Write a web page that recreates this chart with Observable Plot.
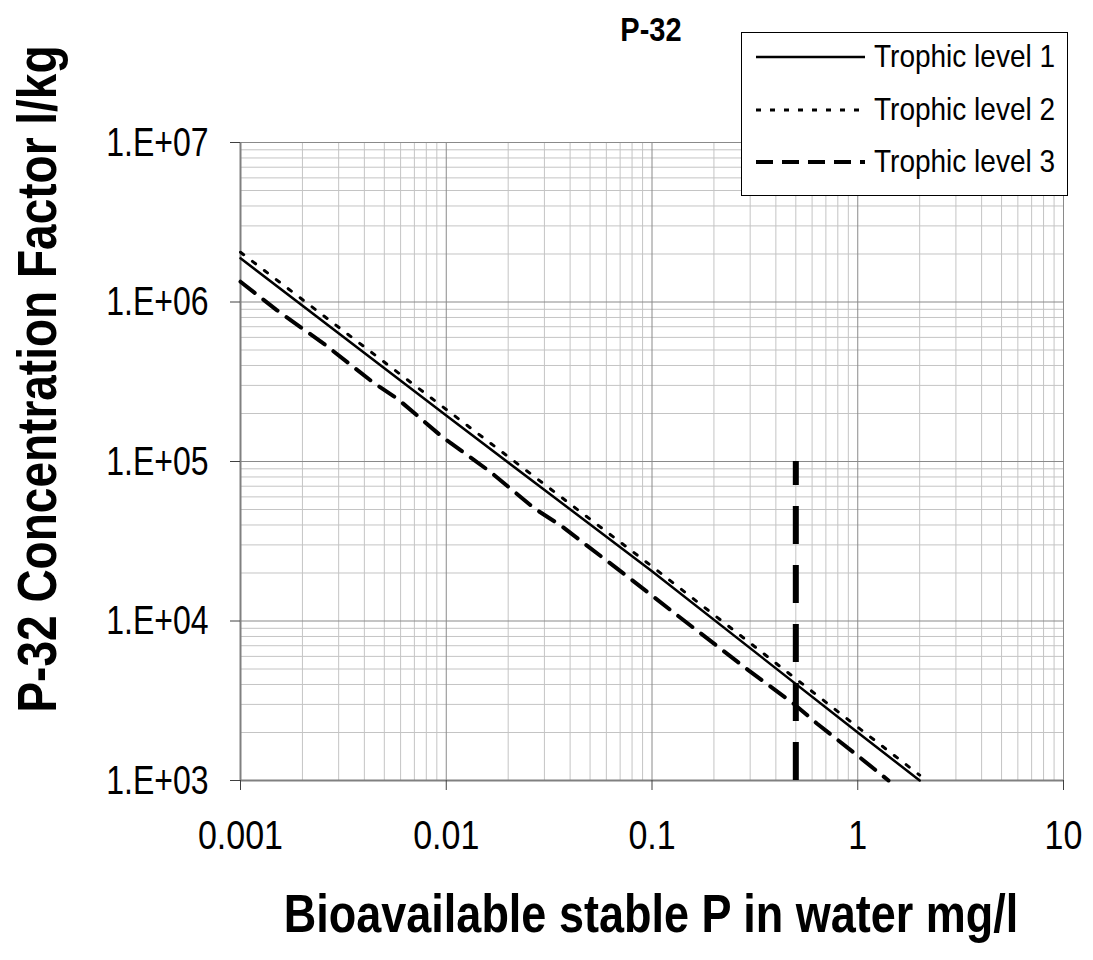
<!DOCTYPE html>
<html>
<head>
<meta charset="utf-8">
<script src="https://cdn.jsdelivr.net/npm/d3@7"></script>
<script src="https://cdn.jsdelivr.net/npm/@observablehq/plot@0.6"></script>
<style>
  body { margin: 0; background: #fff; font-family: "Liberation Sans", Arial, sans-serif; }
  #wrap { position: relative; width: 1093px; height: 960px; overflow: hidden; }
  #wrap > svg { position: absolute; left: 0; top: 0; }
  .t { position: absolute; white-space: nowrap; color: #000; line-height: 1; }
  #title { left: 651px; top: 30px; transform: translate(-50%, -50%) scaleY(1.15); font-weight: bold; font-size: 29px; }
  #xtitle { left: 651px; top: 913px; transform: translate(-50%, -50%) scaleY(1.2); font-weight: bold; font-size: 45px; }
  #ytitle { left: 37px; top: 379px; transform: translate(-50%, -50%) rotate(-90deg) scaleY(1.2); font-weight: bold; font-size: 46px; }
  #legend { position: absolute; left: 741px; top: 32px; width: 325px; height: 162px; border: 1.5px solid #000; background: #fff; }
  #legend .row { position: absolute; left: 0; height: 40px; display: flex; align-items: center; }
  #legend .row svg { display: block; margin-left: 14px; }
  #legend .row span { font-size: 28px; margin-left: 9px; line-height: 1; display: inline-block; transform: scaleY(1.15); }
</style>
</head>
<body>
<div id="wrap">
  <div class="t" id="title">P-32</div>
  <div class="t" id="xtitle">Bioavailable stable P in water mg/l</div>
  <div class="t" id="ytitle">P-32 Concentration Factor l/kg</div>
  <div id="legend"></div>
</div>
<script>
// ---- data ----
const seriesNames = ["Trophic level 1", "Trophic level 2", "Trophic level 3"];

const tl1X = [0.001, 0.01, 0.1, 1, 2];
const tl1Y = [1.88e6, 1.94e5, 2.05e4, 2.0e3, 1.0e3];

const tl2X = [0.001, 0.01, 0.1, 1, 2];
const tl2Y = [2.05e6, 2.12e5, 2.2e4, 2.16e3, 1.08e3];

const tl3X = [0.001, 0.0015, 0.0026, 0.0044, 0.0058, 0.0096, 0.0164, 0.027, 0.036, 0.0785, 0.135, 0.2925, 0.4926, 0.635, 1.0, 1.41];
const tl3Y = [1.34e6, 8.9e5, 5.35e5, 3.14e5, 2.47e5, 1.42e5, 8.6e4, 5.05e4, 3.97e4, 1.84e4, 1.067e4, 4.94e3, 3.0e3, 2.27e3, 1.43e3, 1.0e3];

const refX = [0.5];
const refY = [1e3, 1e5];

const xTicks = [0.001, 0.01, 0.1, 1, 10];
const xTickLabels = ["0.001", "0.01", "0.1", "1", "10"];
const yTicks = [1e3, 1e4, 1e5, 1e6, 1e7];
const yTickLabels = ["1.E+03", "1.E+04", "1.E+05", "1.E+06", "1.E+07"];

// ---- build tables ----
const toRows = (xs, ys, s) => xs.map((x, i) => ({x, y: ys[i], s}));
const tl1 = toRows(tl1X, tl1Y, seriesNames[0]);
const tl2 = toRows(tl2X, tl2Y, seriesNames[1]);
const tl3 = toRows(tl3X, tl3Y, seriesNames[2]);

const minorOf = (majors) => majors.slice(0, -1).flatMap(m => [2,3,4,5,6,7,8,9].map(k => m * k));
const xMinor = minorOf(xTicks);
const yMinor = minorOf(yTicks);

const styles = [
  {strokeWidth: 2.5, dash: null, legendDash: null},
  {strokeWidth: 3, dash: "4,11", legendDash: "5,9"},
  {strokeWidth: 4, dash: "18,11", legendDash: "17,9"}
];

const chart = Plot.plot({
  width: 1093,
  height: 960,
  marginLeft: 240,
  marginRight: 30,
  marginTop: 142,
  marginBottom: 180,
  x: {type: "log", domain: [0.001, 10], label: null},
  y: {type: "log", domain: [1e3, 1e7], label: null},
  style: {fontFamily: "'Liberation Sans', Arial, sans-serif", background: "transparent", color: "#000"},
  marks: [
    Plot.ruleX(xMinor, {stroke: "#c4c4c4", strokeWidth: 1}),
    Plot.ruleY(yMinor, {stroke: "#c4c4c4", strokeWidth: 1}),
    Plot.ruleX(xTicks, {stroke: "#8a8a8a", strokeWidth: 1}),
    Plot.ruleY(yTicks, {stroke: "#8a8a8a", strokeWidth: 1.2}),
    Plot.ruleX([xTicks[0]], {stroke: "#808080", strokeWidth: 2}),
    Plot.ruleY([yTicks[0]], {stroke: "#808080", strokeWidth: 2}),
    Plot.axisX({ticks: xTicks, tickFormat: d => xTickLabels[xTicks.indexOf(d)], tickSize: 10, tickPadding: 30, stroke: "#404040", fill: "#000", fontSize: 34, label: null}),
    Plot.axisY({ticks: yTicks, tickFormat: d => yTickLabels[yTicks.indexOf(d)], tickSize: 10, tickPadding: 22, stroke: "#404040", fill: "#000", fontSize: 32, label: null}),
    Plot.line(tl1, {x: "x", y: "y", stroke: "#000", strokeWidth: styles[0].strokeWidth}),
    Plot.line(tl2, {x: "x", y: "y", stroke: "#000", strokeWidth: styles[1].strokeWidth, strokeDasharray: styles[1].dash}),
    Plot.line(tl3, {x: "x", y: "y", stroke: "#000", strokeWidth: styles[2].strokeWidth, strokeDasharray: styles[2].dash}),
    Plot.ruleX(refX, {y1: refY[0], y2: refY[1], stroke: "#000", strokeWidth: 6, strokeDasharray: "38,21"})
  ]
});
document.getElementById("wrap").prepend(chart);

// stretch tick labels vertically like the reference rendering
const stretch = (sel, k) => chart.querySelectorAll(sel).forEach(t => {
  const tr = t.getAttribute("transform");
  if (tr) {
    t.setAttribute("transform", tr + ` scale(1,${k})`);
  } else {
    const x = +(t.getAttribute("x") || 0), y = +(t.getAttribute("y") || 0);
    t.removeAttribute("x"); t.removeAttribute("y");
    t.setAttribute("transform", `translate(${x},${y}) scale(1,${k})`);
  }
});
stretch('g[aria-label="x-axis tick label"] text', 1.2);
stretch('g[aria-label="y-axis tick label"] text', 1.27);

// ---- legend ----
const legend = document.getElementById("legend");
const rowTops = [4, 57, 109];
seriesNames.forEach((name, i) => {
  const row = document.createElement("div");
  row.className = "row";
  row.style.top = rowTops[i] + "px";
  const dash = styles[i].legendDash ? ` stroke-dasharray="${styles[i].legendDash}"` : "";
  row.innerHTML = `<svg width="109" height="10"><line x1="0" x2="109" y1="5" y2="5" stroke="#000" stroke-width="${styles[i].strokeWidth}"${dash}/></svg><span>${name}</span>`;
  legend.appendChild(row);
});
</script>
</body>
</html>
